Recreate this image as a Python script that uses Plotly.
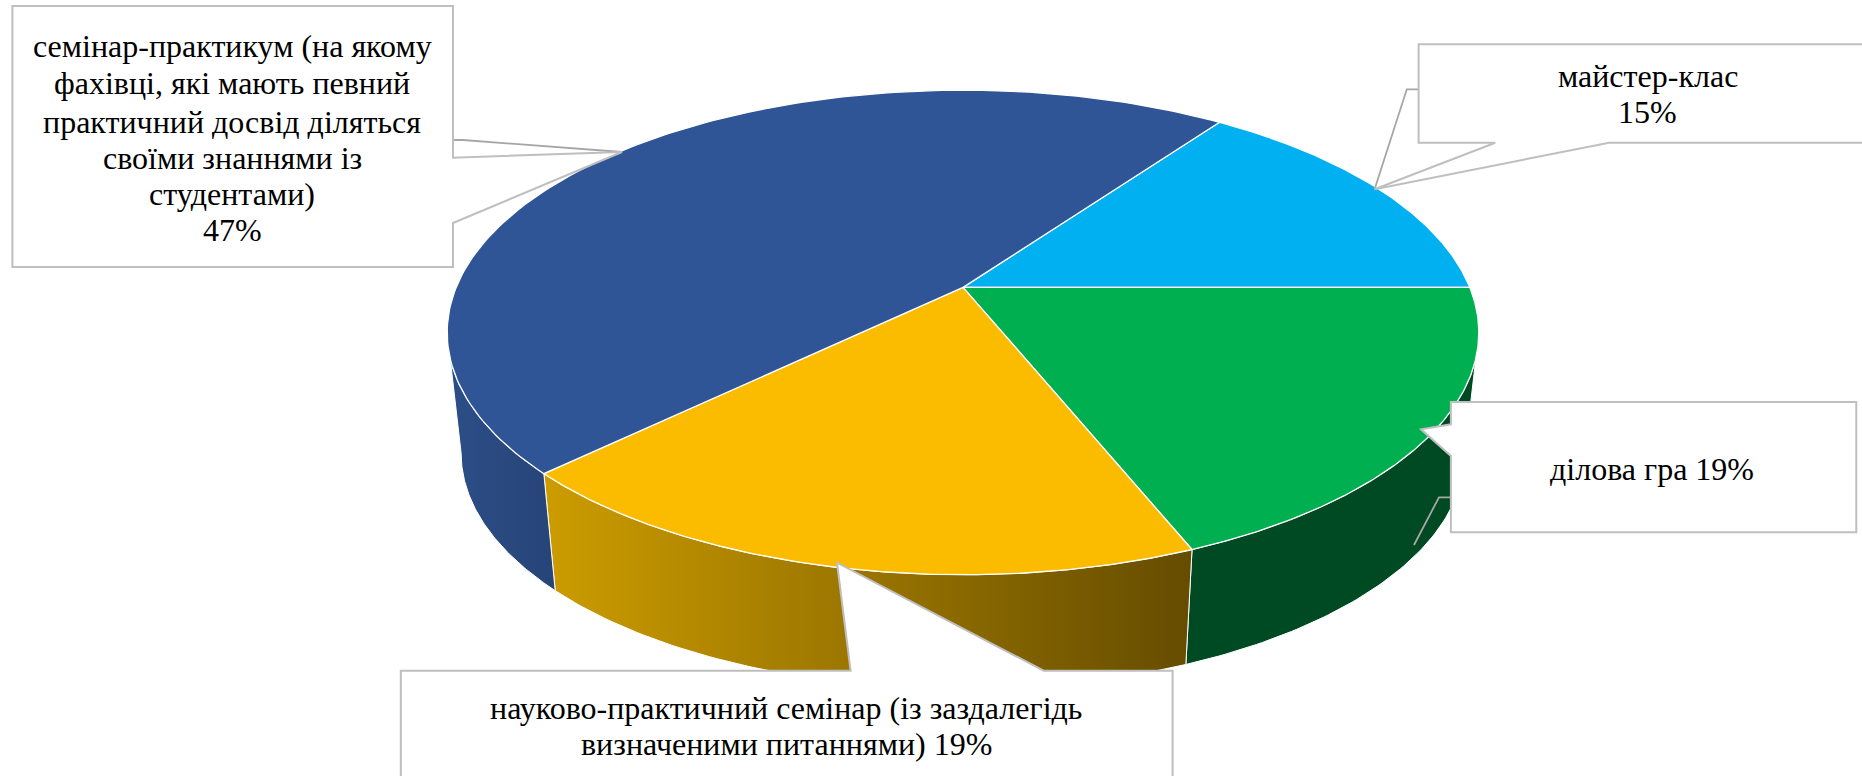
import numpy as np
import plotly.graph_objects as go

# ---------- data ----------
categories = ["майстер-клас", "ділова гра",
              "науково-практичний семінар (із заздалегідь визначеними питаннями)",
              "семінар-практикум (на якому фахівці, які мають певний практичний досвід діляться своїми знаннями із студентами)"]
values = [15.1, 18.9, 18.9, 47.1]
label_lines = [
    ["майстер-клас", "{v}%"],
    ["ділова гра {v}%"],
    ["науково-практичний семінар (із заздалегідь", "визначеними питаннями) {v}%"],
    ["семінар-практикум (на якому", "фахівці, які мають певний", "практичний досвід діляться",
     "своїми знаннями із", "студентами)", "{v}%"],
]
top_colors = ["#00B0F0", "#00B050", "#FBBC00", "#2F5597"]
wall_colors = [None,
               ["#004A23", "#004A23"],
               ["#CC9C00", "#654C00"],
               ["#2C4E87", "#264478"]]

# ---------- projection of the tilted disc ----------
W, H = 1862, 776
CX, CY = 963.0, 287.4
A, B, K = 506.8, 233.9, 0.186
DEPTH, SHRINK = 122.0, 0.973
FIRST_ANGLE = 54.36


def project(theta_deg, bottom=False):
    t = np.radians(np.asarray(theta_deg, dtype=float))
    w = 1 + K * np.sin(t)
    s = SHRINK if bottom else 1.0
    x = CX + s * A * np.cos(t) / w
    y = (CY + DEPTH if bottom else CY) - s * B * np.sin(t) / w
    return x, y


total = sum(values)
edges = [FIRST_ANGLE]
for v in values:
    edges.append(edges[-1] - 360.0 * v / total)

# visible wall range: between the two silhouette tangents
sil_right = -np.degrees(np.arcsin(K))
sil_left = -180.0 - sil_right

fig = go.Figure()

# walls
for i, cols in enumerate(wall_colors):
    if cols is None:
        continue
    a0 = min(edges[i], sil_right)
    a1 = max(edges[i + 1], sil_left)
    th = np.linspace(a0, a1, 80)
    xt, yt = project(th)
    xb, yb = project(th[::-1], bottom=True)
    fig.add_trace(go.Scatter(
        x=np.r_[xt, xb, xt[0]], y=np.r_[yt, yb, yt[0]],
        mode="lines", fill="toself",
        line=dict(color="#FFFFFF", width=1),
        fillgradient=dict(type="horizontal",
                          colorscale=[[0, cols[0]], [1, cols[1]]]),
        hoverinfo="skip", showlegend=False))

# top faces
for i, c in enumerate(top_colors):
    th = np.linspace(edges[i], edges[i + 1], 160)
    xa, ya = project(th)
    fig.add_trace(go.Scatter(
        x=np.r_[CX, xa, CX], y=np.r_[CY, ya, CY],
        mode="lines", fill="toself", fillcolor=c,
        line=dict(color="#FFFFFF", width=1.3),
        name=categories[i], text=f"{categories[i]}: {round(values[i])}%",
        hoverinfo="text", showlegend=False))

# ---------- callouts (layout furniture, in pixels) ----------
GREY = "#BFBFBF"
callouts = [
    # майстер-клас
    "M1418.6,44.3 L1900,44.3 L1900,142.7 L1609,142.7 L1374.6,189.3 L1495.3,142.7 L1418.6,142.7 Z",
    # ділова гра
    "M1450.9,402 L1856.3,402 L1856.3,532.3 L1450.9,532.3 L1450.9,456 L1421,429.3 L1450.9,424.3 Z",
    # науково-практичний
    "M400.8,670.7 L850.6,670.7 L837,562.7 L1043.7,670.7 L1172.6,670.7 L1172.6,800 L400.8,800 Z",
    # семінар-практикум
    "M12.4,6 L453,6 L453,157.7 L622,152 L453,223 L453,267 L12.4,267 Z",
]
leaders = [
    "M1418.6,89.3 L1406.8,89.3 L1374.6,189.3",
    "M1450.9,497.3 L1439,497.3 L1414,545",
    "M453,140 L463,140 L622,152",
]
shapes = []
for p in leaders:
    shapes.append(dict(type="path", path=p, xref="x", yref="y", layer="above",
                       line=dict(color="#A6A6A6", width=1.8)))
for p in callouts:
    shapes.append(dict(type="path", path=p, xref="x", yref="y", layer="above",
                       fillcolor="#FFFFFF", line=dict(color=GREY, width=2)))

# label centres, one per text line
label_x = [1647.7, 1652.0, 786.0, 232.4]
label_y = [[76, 112], [469], [708, 744], [46, 83, 122, 158, 194, 230]]
annotations = []
for lines, v, lx, ys in zip(label_lines, values, label_x, label_y):
    for line, ly in zip(lines, ys):
        annotations.append(dict(
            x=lx, y=ly, xref="x", yref="y", showarrow=False,
            text=line.format(v=round(v)), xanchor="center", yanchor="middle",
            font=dict(family="Liberation Serif", size=32, color="#000000")))

fig.update_layout(
    width=W, height=H, margin=dict(l=0, r=0, t=0, b=0),
    paper_bgcolor="#FFFFFF", plot_bgcolor="#FFFFFF", showlegend=False,
    xaxis=dict(range=[0, W], visible=False, fixedrange=True),
    yaxis=dict(range=[H, 0], visible=False, fixedrange=True),
    shapes=shapes, annotations=annotations,
)
fig.write_html("out.html", config={"displayModeBar": False},
               post_script="document.body.style.margin='0';document.documentElement.style.overflow='hidden';")
